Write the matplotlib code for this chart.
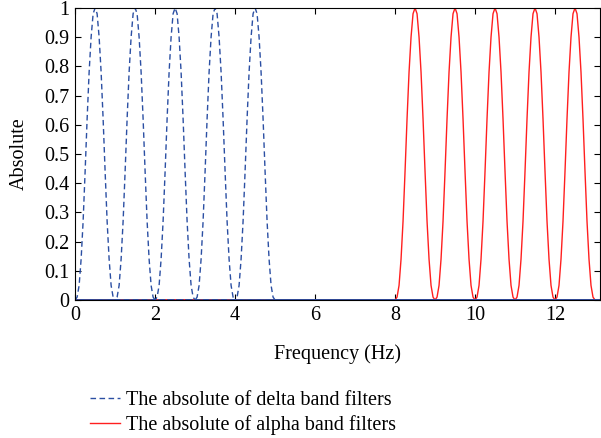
import numpy as np
import matplotlib
matplotlib.use("Agg")
import matplotlib.pyplot as plt

# ===============================================================================
#         Data
# ===============================================================================

# centre frequency (Hz) of each 1 Hz wide band filter
delta_centers = [0.5, 1.5, 2.5, 3.5, 4.5]
alpha_centers = [8.5, 9.5, 10.5, 11.5, 12.5]

# one filter's magnitude, read across its band (offset -0.5 .. +0.5 Hz)
profile_offsets = [-0.5, -0.45, -0.4, -0.35, -0.3, -0.25, -0.2, -0.15, -0.1,
                   -0.05, 0.0, 0.05, 0.1, 0.15, 0.2, 0.25, 0.3, 0.35, 0.4,
                   0.45, 0.5]
profile_values = [0.0, 0.01, 0.05, 0.14, 0.27, 0.44, 0.62, 0.78, 0.90, 0.98,
                  1.0, 0.98, 0.90, 0.78, 0.62, 0.44, 0.27, 0.14, 0.05, 0.01,
                  0.0]

freq_max = 13.12
x_ticks = [0, 2, 4, 6, 8, 10, 12]
y_ticks = [0, 0.1, 0.2, 0.3, 0.4, 0.5, 0.6, 0.7, 0.8, 0.9, 1]
y_labels = ["0", "0.1", "0.2", "0.3", "0.4", "0.5", "0.6", "0.7", "0.8",
            "0.9", "1"]


def filter_curve(center):
    """Full-range curve: zero outside the band, profile inside it."""
    x = [0.0] + [center + o for o in profile_offsets] + [freq_max]
    y = [0.0] + profile_values + [0.0]
    return x, y


plt.rcParams["font.family"] = ["Liberation Serif", "DejaVu Serif"]
fs = 14.5

fig = plt.figure(figsize=(6.01, 4.38), dpi=100)
ax = fig.add_axes([0.125, 0.315, 0.873, 0.667])

red = "#ff1f1f"
blue = "#2b4fa3"

for i, c in enumerate(alpha_centers):
    x, y = filter_curve(c)
    ax.plot(x, y, color=red, lw=1.0,
            label="The absolute of alpha band filters" if i == 0 else None)

for i, c in enumerate(delta_centers):
    x, y = filter_curve(c)
    ax.plot(x, y, color=blue, lw=1.0, ls=(i * 1.3, (4, 2.5)),
            label="The absolute of delta band filters" if i == 0 else None)

ax.set_xlim(0, freq_max)
ax.set_ylim(0, 1)
ax.set_xticks(x_ticks)
ax.set_yticks(y_ticks)
ax.set_yticklabels(y_labels)
ax.tick_params(direction="in", top=True, right=True, labelsize=fs,
               length=4, width=0.8, pad=4)
for s in ax.spines.values():
    s.set_linewidth(0.8)

ax.set_xlabel("Frequency (Hz)", fontsize=fs, labelpad=14)
ax.set_ylabel("Absolute", fontsize=fs, labelpad=11)

handles, labels = ax.get_legend_handles_labels()
# delta first, then alpha
fig.legend(handles[::-1], labels[::-1], loc="upper left",
           bbox_to_anchor=(0.136, 0.126), frameon=False, fontsize=fs,
           handlelength=1.5, handletextpad=0.3, labelspacing=0.25,
           borderaxespad=0)

fig.savefig("out.png", dpi=100)
